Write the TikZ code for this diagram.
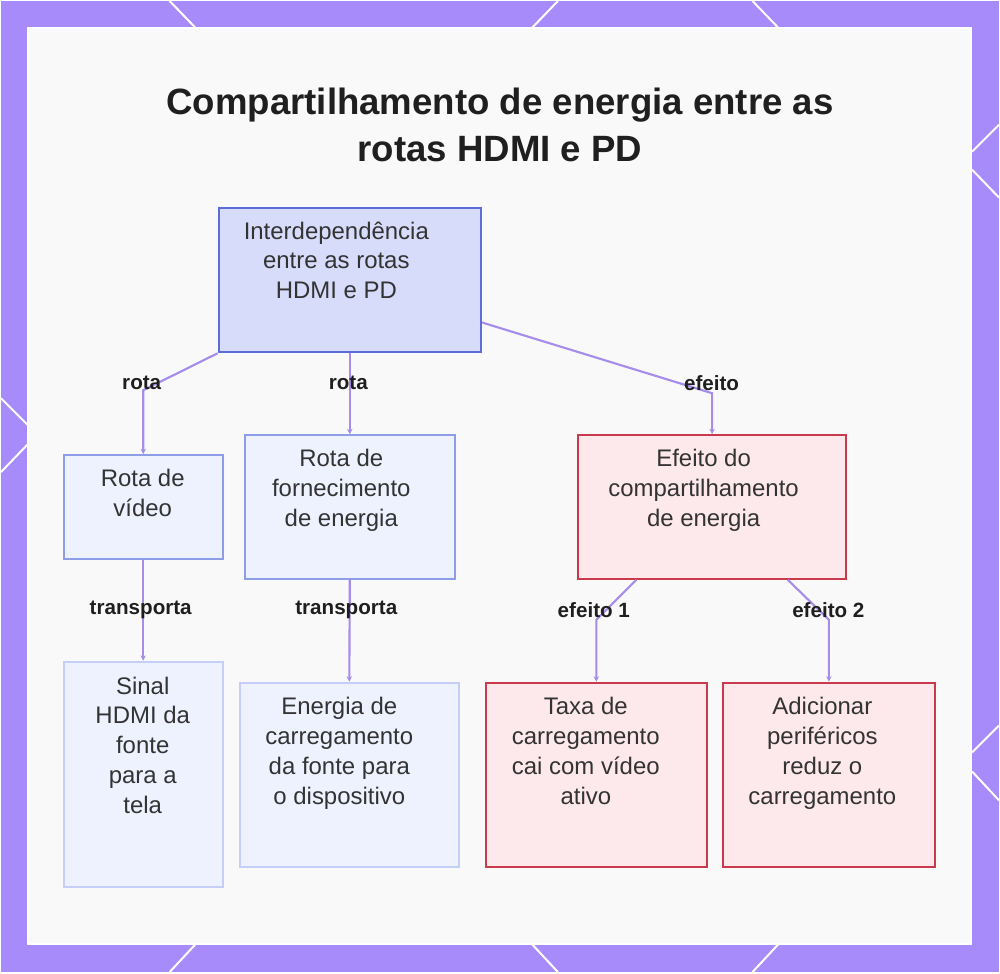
\documentclass[tikz,border=0pt]{standalone}
\usepackage{fontspec}
\setmainfont{Liberation Sans}
\usepackage{xcolor}
\usepackage{tikz}
\usetikzlibrary{arrows.meta}
\usetikzlibrary{fit, calc}

\definecolor{frame}{HTML}{A78BFA}
\definecolor{panel}{HTML}{F9F9FA}
\definecolor{rootfill}{HTML}{D8DCFB}
\definecolor{rootline}{HTML}{5B6DD6}
\definecolor{bluefill}{HTML}{EEF2FF}
\definecolor{blueline}{HTML}{8E9DE8}
\definecolor{paleline}{HTML}{C5CEF8}
\definecolor{redfill}{HTML}{FDE8EC}
\definecolor{redline}{HTML}{C93A4C}
\definecolor{linkcol}{HTML}{A68CEB}
\definecolor{textcol}{HTML}{333333}

\begin{document}
\begin{tikzpicture}[
    x=0.75pt, y=-0.75pt,
    >=Stealth,
    line width=1.5pt,
    box/.style={draw, inner sep=0pt, line width=1.5pt},
    rootbox/.style={box, draw=rootline, fill=rootfill},
    bluebox/.style={box, draw=blueline, fill=bluefill},
    palebox/.style={box, draw=paleline, fill=bluefill},
    redbox/.style={box, draw=redline, fill=redfill},
    boxtext/.style={anchor=north, align=center, text=textcol,
        font=\fontsize{18}{22.5}\selectfont, inner sep=0pt},
    link/.style={draw=linkcol, line width=1.6pt, -{Stealth[length=4pt, width=4pt]}},
    linklabel/.style={font=\fontsize{15.5}{18}\selectfont\bfseries, text=black!88}
]

% Frame
\fill[frame] (0,0) rectangle (1000,973);

% Frame strokes
\foreach \a/\b/\c/\d in {169/0/195/27, 558/0/532/27, 753/0/779/27,
    195/945/169/973, 532/945/558/973, 779/945/753/973,
    0/398/27/425, 27/444/0/472,
    973/151/1000/124, 973/169/1000/197, 973/753/1000/726, 973/772/1000/801} {
    \draw[white, line width=1.5pt] (\a,\b) -- (\c,\d);
}

% Panel
\draw[white, line width=2pt, fill=panel] (27,27) rectangle (972,945);

% Title
\node[font=\fontsize{27.5}{35}\selectfont\bfseries, align=center, text=black!88]
    (title) at (500,124) {Compartilhamento de energia entre as\\rotas HDMI e PD};

% Boxes
\node[rootbox, fit={(218,207) (481,352)}] (root) {};
\node[bluebox, fit={(63,455) (222,559)}] (video) {};
\node[bluebox, fit={(244,435) (455,579)}] (forn) {};
\node[redbox, fit={(578,435) (847,579)}] (efeito) {};
\node[palebox, fit={(63,662) (222,888)}] (sinal) {};
\node[palebox, fit={(239,683) (459,868)}] (energia) {};
\node[redbox, fit={(486,683) (707,868)}] (taxa) {};
\node[redbox, fit={(723,683) (936,868)}] (adic) {};

% Box texts
\node[boxtext] (roottext) at (336,220) {Interdependência\\entre as rotas\\HDMI e PD};
\node[boxtext] (videotext) at (142,468) {Rota de\\vídeo};
\node[boxtext] (forntext) at (341,448) {Rota de\\fornecimento\\de energia};
\node[boxtext] (efeitotext) at (704,448) {Efeito do\\compartilhamento\\de energia};
\node[boxtext] (sinaltext) at (142,676) {Sinal\\HDMI da\\fonte\\para a\\tela};
\node[boxtext] (energiatext) at (339,697) {Energia de\\carregamento\\da fonte para\\o dispositivo};
\node[boxtext] (taxatext) at (586,697) {Taxa de\\carregamento\\cai com vídeo\\ativo};
\node[boxtext] (adictext) at (823,697) {Adicionar\\periféricos\\reduz o\\carregamento};

% Bends
\coordinate (b1) at (142.5,390);
\coordinate (b3) at (712.5,393);
\coordinate (b4) at (596.5,620);
\coordinate (b5) at (829.5,620);

% Connectors
\draw[link] (root.south west) -- (b1) -- (video.north);
\draw[link] (root.south) -- (forn.north);
\draw[link] ($(root.north east)!0.79!(root.south east)$) -- (b3) -- (efeito.north);
\draw[link] (video.south) -- (sinal.north);
\draw[link] (forn.south) -- (energia.north);
\draw[link] ($(efeito.south west)!0.22!(efeito.south east)$) -- (b4) -- (taxa.north);
\draw[link] ($(efeito.south west)!0.78!(efeito.south east)$) -- (b5) -- (adic.north);

% Connector labels
\node[linklabel] (l1) at (141,383) {rota};
\node[linklabel] (l2) at (348,383) {rota};
\node[linklabel] (l3) at (712,383) {efeito};
\node[linklabel] (l4) at (140,610) {transporta};
\node[linklabel] (l5) at (346,610) {transporta};
\node[linklabel] (l6) at (594,610) {efeito 1};
\node[linklabel] (l7) at (829,610) {efeito 2};

\end{tikzpicture}
\end{document}
